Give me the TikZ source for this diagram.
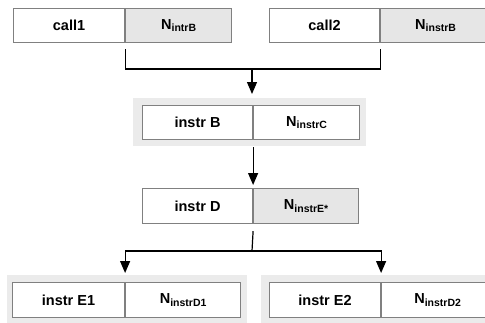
\documentclass[tikz,border=0pt]{standalone}
\usepackage{fontspec}
\setmainfont{Liberation Sans}
\usetikzlibrary{arrows.meta}
\definecolor{boxgray}{HTML}{808080}
\definecolor{cellgray}{HTML}{E6E6E6}
\definecolor{bggray}{HTML}{EBEBEB}
\newcommand{\Nsub}[1]{N\raisebox{-2.5pt}{\fontsize{10.5pt}{12pt}\selectfont #1}}
\begin{document}
\begin{tikzpicture}[x=1pt,y=-1pt,
  cell/.style={draw=boxgray, line width=1.1pt, rectangle, anchor=north west, inner sep=0pt,
    minimum height=34pt, fill=white, font=\fontsize{14.5pt}{17pt}\selectfont\bfseries},
  ncell/.style={cell, fill=cellgray},
  bgbox/.style={fill=bggray, draw=none, anchor=north west, inner sep=0pt, rectangle},
  conn/.style={line width=1.2pt, black},
  arr/.style={conn, -{Triangle[width=10pt,length=12pt]}}]
\useasboundingbox (0,0) rectangle (485,322);
% backgrounds
\node[bgbox, minimum width=233pt, minimum height=48pt] (bgB) at (133,98) {};
\node[bgbox, minimum width=240pt, minimum height=60pt] (bgE1) at (7,275) {};
\node[bgbox, minimum width=240pt, minimum height=60pt] (bgE2) at (261,275) {};
% top row
\node[cell, minimum width=111pt] (c1) at (13,8) {call1};
\node[ncell, minimum width=106pt] (n1) at (c1.north east) {\Nsub{intrB}};
\node[cell, minimum width=110pt] (c2) at (269,8) {call2};
\node[ncell, minimum width=110pt] (n2) at (c2.north east) {\Nsub{instrB}};
% instr B
\node[cell, minimum width=110pt] (bB) at (142,105) {instr B};
\node[cell, minimum width=106pt] (nB) at (bB.north east) {\Nsub{instrC}};
% instr D
\node[cell, minimum width=110pt, minimum height=35pt] (dD) at (142,188) {instr D};
\node[ncell, minimum width=105pt, minimum height=35pt] (nD) at (dD.north east) {\Nsub{instrE*}};
% instr E1, E2
\node[cell, minimum width=112pt, minimum height=35pt] (e1) at (12,282) {instr E1};
\node[cell, minimum width=115pt, minimum height=35pt] (ne1) at (e1.north east) {\Nsub{instrD1}};
\node[cell, minimum width=111pt, minimum height=35pt] (e2) at (269,282) {instr E2};
\node[cell, minimum width=112pt, minimum height=35pt] (ne2) at (e2.north east) {\Nsub{instrD2}};
% connectors
\coordinate (h1) at (252,69);
\draw[conn] ([yshift=-6pt]c1.south east) -- (c1.south east |- h1) -- (c2.south east |- h1) -- ([yshift=-6pt]c2.south east);
\path (h1 |- bgB.north) coordinate (t1);
\draw[arr] (h1) -- ([yshift=4pt]t1);
\path (bB.south east |- bgB.south) coordinate (s2);
\draw[arr] ([yshift=-1pt]s2) -- ([yshift=3pt]dD.north east);
\coordinate (h2) at (252,251);
\draw[conn] ([yshift=-7pt]dD.south east) -- (h2);
\draw[arr] (h2) -| ([yshift=9pt]e1.north east);
\draw[arr] (h2) -| ([yshift=9pt]e2.north east);
\end{tikzpicture}
\end{document}
